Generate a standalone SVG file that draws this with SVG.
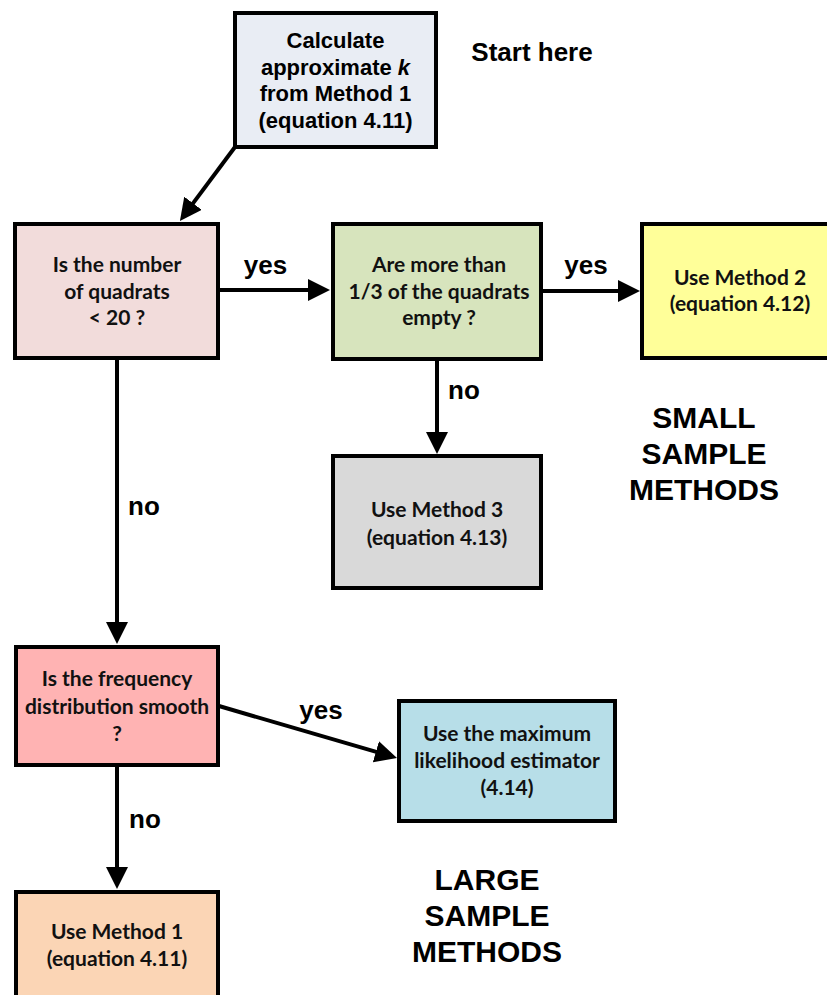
<svg xmlns="http://www.w3.org/2000/svg" width="827" height="995" viewBox="0 0 827 995">
<style>
.box{stroke:#000;stroke-width:4}
.c{font-family:Lato,"Open Sans","Liberation Sans",sans-serif;font-weight:bold;font-size:21px;fill:#111;text-anchor:middle}
.a{font-family:"Liberation Sans",Arial,sans-serif;font-weight:bold;fill:#000;text-anchor:middle}
.lbl{font-size:26px}
.big{font-size:30px}
.b1{font-size:22px}
.conn{stroke:#000;stroke-width:4;fill:none;marker-end:url(#ah)}
</style>
<defs>
<marker id="ah" viewBox="0 0 22 22" refX="12" refY="11" markerWidth="22" markerHeight="22" markerUnits="userSpaceOnUse" orient="auto">
<path d="M0,0 L22,11 L0,22 z" fill="#000"/>
</marker>
</defs>
<rect width="827" height="995" fill="#fff"/>
<g id="connectors">
<line class="conn" x1="235" y1="147" x2="185.9" y2="212.9"/>
<line class="conn" x1="220" y1="290" x2="320" y2="290"/>
<line class="conn" x1="543" y1="291" x2="630" y2="291"/>
<line class="conn" x1="437" y1="360" x2="437" y2="444"/>
<line class="conn" x1="117" y1="360" x2="117" y2="634"/>
<line class="conn" x1="219" y1="706" x2="387.4" y2="755.2"/>
<line class="conn" x1="117" y1="767" x2="117" y2="879"/>
</g>
<g id="edge-labels">
<text class="a lbl" x="265.5" y="273.5">yes</text>
<text class="a lbl" x="586" y="274">yes</text>
<text class="a lbl" x="464" y="399">no</text>
<text class="a lbl" x="144" y="515">no</text>
<text class="a lbl" x="321" y="719">yes</text>
<text class="a lbl" x="145" y="828">no</text>
</g>
<g id="n-start">
<rect class="box" x="235" y="13" width="201" height="134" fill="#e9edf4"/>
<text class="a b1" x="335.5" y="48">Calculate</text>
<text class="a b1" x="335.5" y="74.5">approximate <tspan font-style="italic">k</tspan></text>
<text class="a b1" x="335.5" y="101">from Method 1</text>
<text class="a b1" x="335.5" y="127.5">(equation 4.11)</text>
</g>
<g id="start-label">
<text class="a lbl" x="532" y="61">Start here</text>
</g>
<g id="n-quadrats">
<rect class="box" x="15" y="224" width="203" height="134" fill="#f2dcdb"/>
<text class="c" x="117" y="272">Is the number</text>
<text class="c" x="117" y="298.5">of quadrats</text>
<text class="c" x="117" y="325">&lt; 20 ?</text>
</g>
<g id="n-empty">
<rect class="box" x="333" y="224" width="208" height="135" fill="#d7e4bd"/>
<text class="c" x="439" y="272">Are more than</text>
<text class="c" x="439" y="298.5">1/3 of the quadrats</text>
<text class="c" x="439" y="325">empty ?</text>
</g>
<g id="n-method2">
<rect class="box" x="642" y="224" width="200" height="134" fill="#ffff99"/>
<text class="c" x="740" y="285">Use Method 2</text>
<text class="c" x="740" y="311">(equation 4.12)</text>
</g>
<g id="n-method3">
<rect class="box" x="333" y="456" width="208" height="132" fill="#d9d9d9"/>
<text class="c" x="437" y="517">Use Method 3</text>
<text class="c" x="437" y="545">(equation 4.13)</text>
</g>
<g id="small-label">
<text class="a big" x="704" y="428">SMALL</text>
<text class="a big" x="704" y="464">SAMPLE</text>
<text class="a big" x="704" y="500">METHODS</text>
</g>
<g id="n-smooth">
<rect class="box" x="16" y="647" width="202" height="118" fill="#ffb3b3"/>
<text class="c" x="117" y="686">Is the frequency</text>
<text class="c" x="117" y="713.5">distribution smooth</text>
<text class="c" x="117" y="741">?</text>
</g>
<g id="n-mle">
<rect class="box" x="399" y="701" width="216" height="120" fill="#b7dee8"/>
<text class="c" x="507" y="741">Use the maximum</text>
<text class="c" x="507" y="768">likelihood estimator</text>
<text class="c" x="507" y="795">(4.14)</text>
</g>
<g id="n-method1">
<rect class="box" x="16" y="892" width="202" height="130" fill="#fbd5b5"/>
<text class="c" x="117" y="939">Use Method 1</text>
<text class="c" x="117" y="966">(equation 4.11)</text>
</g>
<g id="large-label">
<text class="a big" x="487" y="890">LARGE</text>
<text class="a big" x="487" y="926">SAMPLE</text>
<text class="a big" x="487" y="962">METHODS</text>
</g>
</svg>
